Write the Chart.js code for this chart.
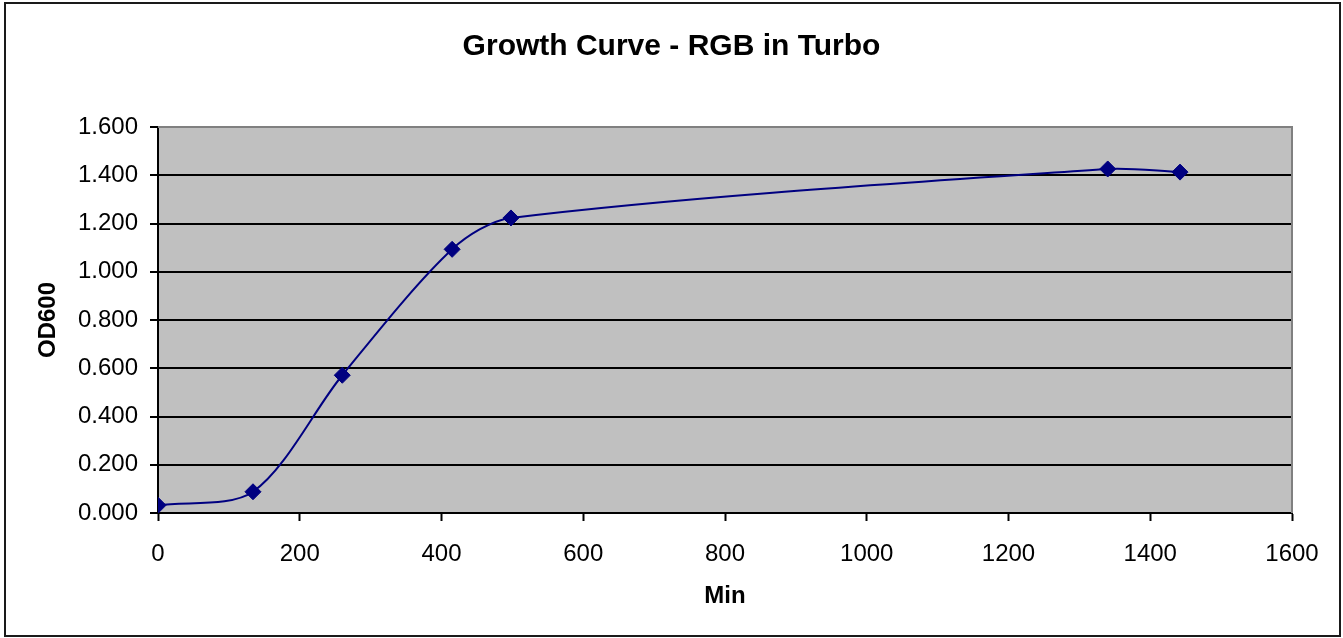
<!DOCTYPE html>
<html>
<head>
<meta charset="utf-8">
<title>Growth Curve - RGB in Turbo</title>
<script src="https://cdn.jsdelivr.net/npm/chart.js@4/dist/chart.umd.min.js"></script>
<style>
  html, body { margin: 0; padding: 0; background: #fff; }
  #growth { display: block; }
</style>
</head>
<body>
<canvas id="growth" width="1343" height="638"></canvas>
<script>
// data
var minutes = [0, 134, 260, 415, 498, 1340, 1442];
var od600 = [0.032, 0.088, 0.571, 1.093, 1.223, 1.426, 1.413];
var xTicks = [0, 200, 400, 600, 800, 1000, 1200, 1400, 1600];
var yTicks = [0, 0.2, 0.4, 0.6, 0.8, 1.0, 1.2, 1.4, 1.6];

var points = minutes.map(function (m, i) {
    return { x: m, y: od600[i] };
});

var fontFamily = '"Liberation Sans", Arial, sans-serif';

// grey plot area, grey top/right edge, outer frame
var excelFrame = {
    id: 'excelFrame',
    beforeDraw: function (chart) {
        var c = chart.ctx;
        var a = chart.chartArea;
        c.save();
        c.fillStyle = '#fff';
        c.fillRect(0, 0, chart.width, chart.height);
        c.fillStyle = '#c0c0c0';
        c.fillRect(a.left, a.top, a.right - a.left, a.bottom - a.top);
        c.strokeStyle = '#1a1a1a';
        c.lineWidth = 2;
        c.strokeRect(5, 3, chart.width - 8, chart.height - 5);
        c.restore();
    },
    beforeDatasetsDraw: function (chart) {
        var c = chart.ctx;
        var a = chart.chartArea;
        c.save();
        c.strokeStyle = '#808080';
        c.lineWidth = 2;
        c.beginPath();
        c.moveTo(a.left, a.top);
        c.lineTo(a.right, a.top);
        c.lineTo(a.right, a.bottom);
        c.stroke();
        c.restore();
    }
};

var ctx = document.getElementById('growth').getContext('2d');
var chart = new Chart(ctx, {
    type: 'scatter',
    data: {
        datasets: [{
            label: 'OD600',
            data: points,
            showLine: true,
            tension: 0.3,
            borderColor: '#000080',
            borderWidth: 2,
            pointStyle: 'rectRot',
            pointRadius: 8,
            pointBorderWidth: 1,
            pointBackgroundColor: '#000080',
            pointBorderColor: '#000080'
        }]
    },
    options: {
        responsive: false,
        animation: false,
        layout: {
            padding: { left: 0, right: 0, top: 0, bottom: 8 }
        },
        plugins: {
            legend: { display: false },
            tooltip: { enabled: false },
            title: {
                display: true,
                text: 'Growth Curve - RGB in Turbo',
                color: '#000',
                font: { family: fontFamily, size: 30, weight: 'bold' },
                padding: { top: 29, bottom: 62 }
            }
        },
        scales: {
            x: {
                type: 'linear',
                min: 0,
                max: 1600,
                afterFit: function (scale) { scale.height = 117; },
                afterBuildTicks: function (scale) {
                    scale.ticks = xTicks.map(function (v) { return { value: v }; });
                },
                ticks: {
                    color: '#000',
                    padding: 19,
                    maxRotation: 0,
                    font: { family: fontFamily, size: 24 },
                    callback: function (v) { return String(v); }
                },
                grid: {
                    drawOnChartArea: false,
                    drawTicks: true,
                    tickLength: 8,
                    tickColor: '#000',
                    tickWidth: 2
                },
                border: { color: '#000', width: 2 },
                title: {
                    display: true,
                    text: 'Min',
                    color: '#000',
                    font: { family: fontFamily, size: 24, weight: 'bold' },
                    padding: { top: 0, bottom: 19 }
                }
            },
            y: {
                type: 'linear',
                min: 0,
                max: 1.6,
                afterFit: function (scale) { scale.width = 158; },
                afterBuildTicks: function (scale) {
                    scale.ticks = yTicks.map(function (v) { return { value: v }; });
                },
                ticks: {
                    color: '#000',
                    padding: 12,
                    font: { family: fontFamily, size: 24 },
                    callback: function (v) { return Number(v).toFixed(3); }
                },
                grid: {
                    color: function (c) {
                        return c.tick && c.tick.value >= 1.6 ? 'rgba(0,0,0,0)' : '#000';
                    },
                    lineWidth: 2,
                    tickLength: 8,
                    tickColor: '#000',
                    tickWidth: 2
                },
                border: { color: '#000', width: 2 },
                title: {
                    display: true,
                    text: 'OD600',
                    color: '#000',
                    font: { family: fontFamily, size: 24, weight: 'bold' },
                    padding: { top: 34, bottom: 0 }
                }
            },
            // empty right-hand box that only reserves the margin
            rightMargin: {
                type: 'linear',
                position: 'right',
                display: true,
                afterFit: function (scale) { scale.width = 51; },
                ticks: { display: false },
                grid: { display: false, drawTicks: false },
                border: { display: false }
            }
        }
    },
    plugins: [excelFrame]
});
</script>
</body>
</html>
